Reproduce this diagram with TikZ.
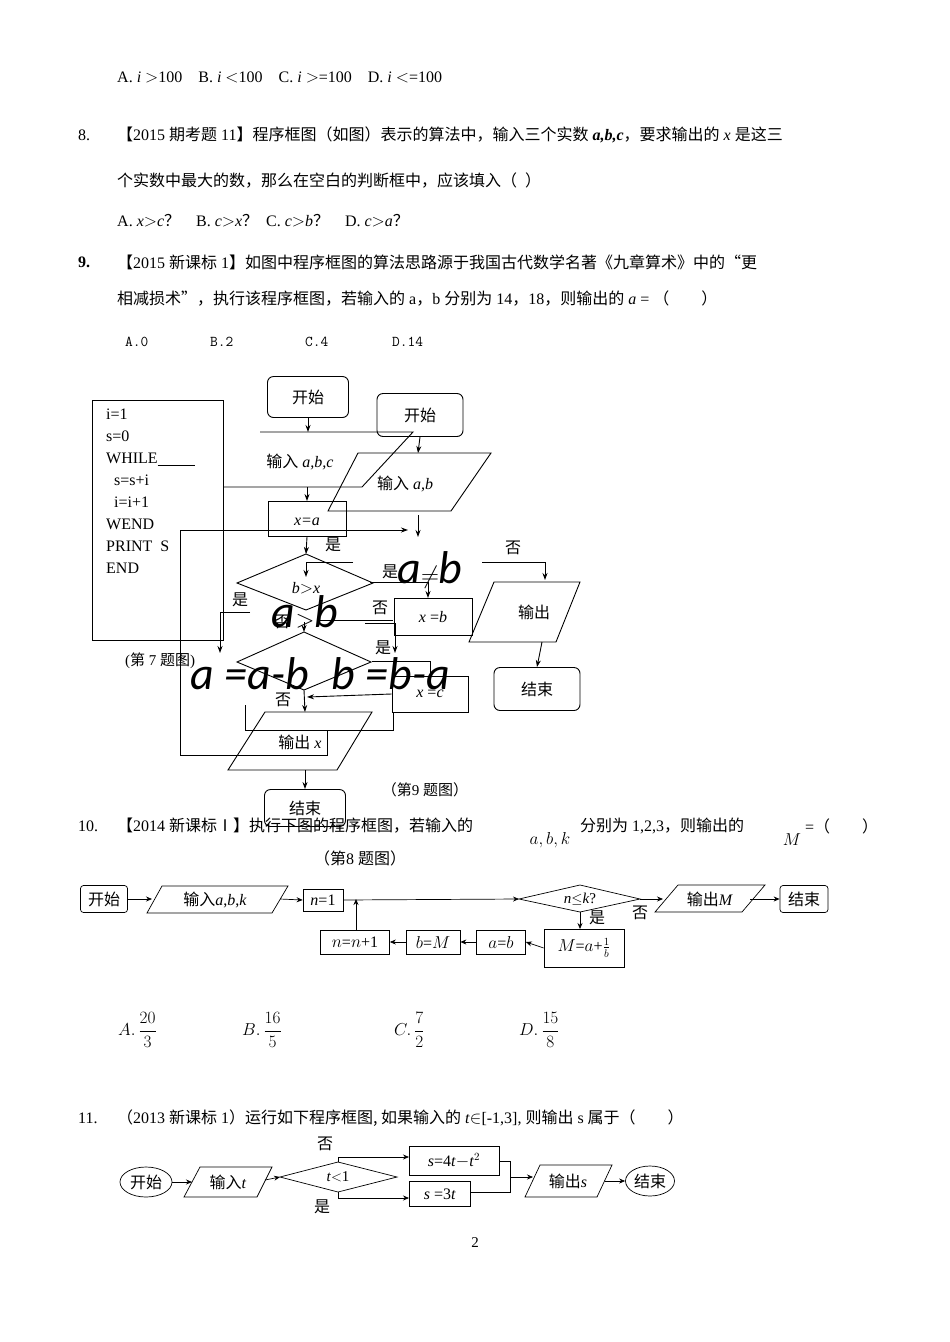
\documentclass[tikz,border=0pt]{standalone}
\usepackage{fontspec}
\setmainfont{Liberation Serif}
\newfontfamily\cjk{Noto Sans CJK SC}
\newfontfamily\carlfont{Carlito}
\usetikzlibrary{arrows.meta,shapes.geometric}
\newcommand{\C}[1]{{\cjk #1}}
\begin{document}
\begin{tikzpicture}[x=1pt,y=-1pt,
  txt/.style={anchor=west,inner sep=0pt,font=\fontsize{16}{18}\selectfont},
  lbl/.style={inner sep=0pt,font=\fontsize{16}{18}\selectfont},
  sml/.style={inner sep=0pt,font=\fontsize{15}{17}\selectfont},
  big/.style={inner sep=0pt,font=\fontsize{46}{48}\carlfont\itshape},
  ln/.style={line width=0.9pt},
  ar/.style={line width=0.9pt,-{Stealth[length=7pt,width=5pt]}},
  tn/.style={line width=0.7pt},
  ta/.style={line width=0.7pt,-{Stealth[length=6pt,width=5pt]}}]
\useasboundingbox (0,0) rectangle (950,1342);
\fill[white] (0,0) rectangle (950,1342);
% text
\node[txt] (l1) at (117,77) {A. \textit{i} $>$100\quad B. \textit{i} $<$100\quad C. \textit{i} $>$=100\quad D. \textit{i} $<$=100};
\node[txt] (n8) at (78,135) {8.};
\node[txt] (l2) at (117,135) {\C{【}2015 \C{期考题} 11\C{】程序框图（如图）表示的算法中，输入三个实数} \textit{\textbf{a,b,c}}\C{，要求输出的} \textit{x} \C{是这三}};
\node[txt] (l3) at (117,181) {\C{个实数中最大的数，那么在空白的判断框中，应该填入（\enspace）}};
\node[txt] (l4) at (117,221) {A. \textit{x}$>$\textit{c}\C{？}\quad B. \textit{c}$>$\textit{x}\C{？}\enspace C. \textit{c}$>$\textit{b}\C{？}\quad D. \textit{c}$>$\textit{a}\C{？}};
\node[txt] (n9) at (78,262) {\textbf{9.}};
\node[txt] (l5) at (117,262) {\C{【}2015 \C{新课标} 1\C{】如图中程序框图的算法思路源于我国古代数学名著《九章算术》中的“更}};
\node[txt] (l6) at (117,299) {\C{相减损术”，执行该程序框图，若输入的} a\C{，}b \C{分别为} 14\C{，}18\C{，则输出的} \textit{a} = \C{（\qquad）}};
\node[txt,font=\fontsize{15}{17}\ttfamily] (o1) at (125,342) {A.0};
\node[txt,font=\fontsize{15}{17}\ttfamily] (o2) at (210,342) {B.2};
\node[txt,font=\fontsize{15}{17}\ttfamily] (o3) at (305,342) {C.4};
\node[txt,font=\fontsize{15}{17}\ttfamily] (o4) at (392,342) {D.14};
% code box Q7
\draw[ln] (92,400) rectangle (223,640);
\node[anchor=north west,inner sep=0pt,font=\fontsize{16}{22}\selectfont,align=left] (code) at (106,409) {i=1\\s=0\\WHILE\underline{\hspace{2.3em}}\\\ \ s=s+i\\\ \ i=i+1\\WEND\\PRINT\ \ S\\END};
\node[sml] (c7) at (160,661) {(\C{第} 7 \C{题图})};
% Q8 chart
\node[draw,ln,rounded corners=6pt,minimum width=81pt,minimum height=41pt,lbl] (s8) at (308,397) {\C{开始}};
\draw[ln] (260,432)--(413,432)--(362,487)--(223,487);
\node[lbl] (in8) at (300,462) {\C{输入} \textit{a,b,c}};
\node[draw,ln,minimum width=78pt,minimum height=35pt,inner sep=0pt] (xa) at (307,519) {};
\node[lbl] at (307,522) {\textit{x=a}};
\draw[ln] (306,554)--(373,583)--(306,610)--(237,583)--cycle;
\coordinate (d1t) at (306,554); \coordinate (d1b) at (306,610);
\node[lbl] (bx) at (306,588) {\textit{b}$>$\textit{x}};
\draw[ln] (304,632)--(371,662)--(304,690)--(237,662)--cycle;
\coordinate (d2t) at (304,632); \coordinate (d2b) at (304,690);
\node[draw,ln,minimum width=78pt,minimum height=37pt,inner sep=0pt,lbl] (xb) at (433,617) {\textit{x} =\textit{b}};
\node[draw,ln,minimum width=76pt,minimum height=36pt,inner sep=0pt,lbl] (xc) at (430,694) {\textit{x} =\textit{c}};
\draw[ln] (265,712)--(372,712)--(337,770)--(228,770)--cycle;
\node[lbl] (out8) at (300,742) {\C{输出} \textit{x}};
\node[draw,ln,rounded corners=6pt,minimum width=81pt,minimum height=37pt,lbl] (e8) at (305,808) {\C{结束}};
\draw[ar] (s8.south) -- (308,432);
\draw[ar] (307,487) -- (xa.north);
\draw[ar] (xa.south) -- (d1t);
\node[lbl] (y1) at (333,545) {\C{是}};
\node[lbl] (no1) at (282,622) {\C{否}};
\node[lbl] (no2) at (283,700) {\C{否}};
\draw[ar] (d2b) -- (305,712);
\draw[ar] (xc.west) -- (307,697);
\draw[ln] (245,705)--(245,730)--(393,730)--(393,712);
\draw[ln] (327,730)--(327,755)--(180,755)--(180,530);
\draw[ar] (180,530)--(408,530);
\draw[ar] (305,770) -- (e8.north);
\node[lbl] (c8) at (360,858) {\C{（第}8 \C{题图）}};
% Q9 chart
\node[draw,ln,rounded corners=6pt,minimum width=86pt,minimum height=43pt,lbl] (s9) at (420,415) {\C{开始}};
\draw[ln] (358,453)--(491,453)--(451,511)--(328,511)--cycle;
\node[lbl] (in9) at (405,484) {\C{输入} \textit{a,b}};
\draw[ar] (s9.south) -- (418,453);
\draw[ar] (418,515) -- (418,537);
\node[big] (ne) at (430,570) {a$\neq$b};
\node[big] (gt) at (305,612) {a$>$b};
\node[big] (ab) at (250,674) {a =a-b};
\node[big] (ba) at (391,674) {b =b-a};
\draw[ln] (482,562)--(545,562); \draw[ar] (545,562)--(545,580);
\node[lbl] (no9) at (513,548) {\C{否}};
\draw[ln] (353,562)--(306,562); \draw[ar] (306,562)--(306,577);
\draw[ln] (370,582)--(428,582); \draw[ar] (428,582)--(428,598);
\node[lbl] (y9) at (390,572) {\C{是}};
\draw[ln] (250,612)--(220,612); \draw[ar] (220,612)--(220,653);
\node[lbl] (y9b) at (240,600) {\C{是}};
\draw[ln] (365,623)--(395,623); \draw[ar] (395,623)--(395,653);
\node[lbl] (no9b) at (380,608) {\C{否}};
\node[lbl] (y9c) at (383,648) {\C{是}};
\draw[ln] (320,620)--(393,620);
\draw[ar] (304,622)--(d2t);
\draw[ln] (372,661)--(430,661)--(430,673);
\draw[ln] (494,582)--(580,582)--(556,642)--(469,642)--cycle;
\node[lbl] (out9) at (534,612) {\C{输出}};
\node[draw,ln,rounded corners=6pt,minimum width=86pt,minimum height=43pt,lbl] (e9) at (537,689) {\C{结束}};
\draw[ar] (542,642) -- (e9.north);
\node[sml] (c9) at (425,790) {\C{（第}9 \C{题图）}};
% Q10
\node[txt] (n10) at (78,826) {10.};
\node[txt] (l7) at (117,826) {\C{【}2014 \C{新课标Ⅰ】执行下图的程序框图，若输入的}};
\node[lbl] (abk) at (550,840) {$a,b,k$};
\node[txt] (l8) at (580,826) {\C{分别为} 1,2,3\C{，则输出的}};
\node[lbl] (M) at (792,840) {$M$};
\node[txt] (l9) at (805,826) {=\C{（\qquad）}};
\node[draw,tn,rounded corners=3pt,minimum width=47pt,minimum height=27pt,inner sep=0pt,lbl] (ks) at (104,899) {\C{开始}};
\draw[tn] (162,886)--(288,886)--(272,913)--(147,913)--cycle;
\node[lbl] (kin) at (215,900) {\C{输入}\textit{a},\textit{b},\textit{k}};
\node[draw,tn,minimum width=40pt,minimum height=22pt,inner sep=0pt,lbl] (n1) at (323,900) {\textit{n}=1};
\draw[tn] (519,899)--(580,885)--(640,899)--(580,912)--cycle;
\node[sml] (nk) at (580,899) {\textit{n}$\le$\textit{k}?};
\draw[tn] (678,885)--(765,885)--(742,912)--(655,912)--cycle;
\node[lbl] (kout) at (710,899) {\C{输出}\textit{M}};
\node[draw,tn,rounded corners=3pt,minimum width=48pt,minimum height=27pt,inner sep=0pt,lbl] (ke) at (804,899) {\C{结束}};
\node[draw,tn,minimum width=80pt,minimum height=38pt,inner sep=0pt,lbl] (Mb) at (584,948) {$M$=$a$+$\frac{1}{b}$};
\node[draw,tn,minimum width=49pt,minimum height=24pt,inner sep=0pt,lbl] (ab2) at (501,942) {$a$=$b$};
\node[draw,tn,minimum width=54pt,minimum height=24pt,inner sep=0pt,lbl] (bM) at (433,942) {$b$=$M$};
\node[draw,tn,minimum width=69pt,minimum height=24pt,inner sep=0pt,lbl] (nn) at (355,942) {$n$=$n$+1};
\draw[ta] (ks.east) -- (152,899);
\draw[ta] (280,899) -- (n1.west);
\draw[ta] (n1.east) -- (519,899);
\draw[ta] (640,899) -- (663,899);
\draw[ta] (750,899) -- (ke.west);
\draw[ta] (580,912) -- (580,929);
\node[lbl] (ky) at (597,918) {\C{是}};
\node[lbl] (kn) at (640,913) {\C{否}};
\draw[ta] (Mb.west) -- (ab2.east);
\draw[ta] (ab2.west) -- (bM.east);
\draw[ta] (bM.west) -- (nn.east);
\draw[ta] (356,930) -- (356,899);
% fractions
\node[txt,font=\fontsize{17}{19}\selectfont] (fa) at (118,1030) {$\displaystyle A.\,\frac{20}{3}$};
\node[txt,font=\fontsize{17}{19}\selectfont] (fb) at (242,1030) {$\displaystyle B.\,\frac{16}{5}$};
\node[txt,font=\fontsize{17}{19}\selectfont] (fc) at (394,1030) {$\displaystyle C.\,\frac{7}{2}$};
\node[txt,font=\fontsize{17}{19}\selectfont] (fd) at (519,1030) {$\displaystyle D.\,\frac{15}{8}$};
% Q11
\node[txt] (n11) at (78,1118) {11.};
\node[txt] (l10) at (117,1118) {\C{（}2013 \C{新课标} 1\C{）运行如下程序框图, 如果输入的} \textit{t}$\in$[-1,3], \C{则输出} s \C{属于（\qquad）}};
\node[draw,tn,ellipse,minimum width=52pt,minimum height=30pt,inner sep=0pt,lbl] (ts) at (146,1182) {\C{开始}};
\draw[tn] (200,1167)--(272,1167)--(257,1197)--(184,1197)--cycle;
\node[lbl] (tin) at (228,1182) {\C{输入}\textit{t}};
\draw[tn] (280,1177)--(338,1162)--(397,1177)--(338,1192)--cycle;
\node[sml] (tl) at (338,1177) {\textit{t}$<$1};
\node[draw,tn,minimum width=90pt,minimum height=29pt,inner sep=0pt,lbl] (b1) at (454,1161) {\textit{s}=4\textit{t}$-$\textit{t}$^2$};
\node[draw,tn,minimum width=61pt,minimum height=25pt,inner sep=0pt,lbl] (b2) at (440,1194) {\textit{s} =3\textit{t}};
\draw[tn] (540,1165)--(612,1165)--(597,1197)--(525,1197)--cycle;
\node[lbl] (tout) at (568,1181) {\C{输出}\textit{s}};
\node[draw,tn,ellipse,minimum width=49pt,minimum height=30pt,inner sep=0pt,lbl] (te) at (650,1181) {\C{结束}};
\draw[ta] (ts.east) -- (192,1182);
\draw[ta] (265,1180) -- (280,1177);
\draw[tn] (338,1162)--(338,1157); \draw[ta] (338,1157)--(409,1157);
\draw[tn] (338,1192)--(338,1198); \draw[ta] (338,1198)--(409,1198);
\node[lbl] (tno) at (325,1144) {\C{否}};
\node[lbl] (tye) at (322,1207) {\C{是}};
\draw[tn] (b1.east)--(510,1161)--(510,1192)--(471,1192);
\draw[ta] (510,1177)--(533,1177);
\draw[ta] (605,1181)--(te.west);
\node[sml] (pg) at (475,1243) {2};
\end{tikzpicture}
\end{document}
